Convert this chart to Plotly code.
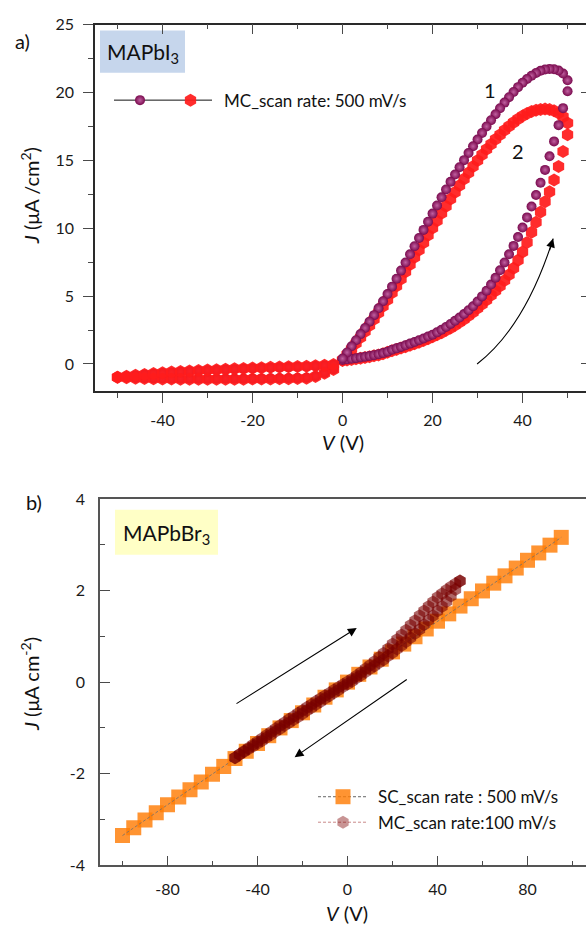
import plotly.graph_objects as go

W, H = 586, 938
FONT = "Lato"

# ---------------- Panel a) MAPbI3 ----------------
V_POS = list(range(0, 51))
S1_FWD = [0.30, 0.34, 0.38, 0.43, 0.48, 0.53, 0.59, 0.65, 0.72, 0.80,
          0.90, 1.05, 1.15, 1.26, 1.38, 1.50, 1.62, 1.75, 1.88, 2.02,
          2.16, 2.33, 2.52, 2.73, 2.95, 3.18, 3.42, 3.68, 3.96, 4.26,
          4.60, 4.98, 5.40, 5.85, 6.35, 6.90, 7.48, 8.08, 8.70, 9.35,
          10.05, 10.80, 11.60, 12.45, 13.35, 14.30, 15.30, 16.40, 17.60, 18.85, 20.10]
S1_REV = [0.40, 0.85, 1.30, 1.75, 2.20, 2.65, 3.12, 3.60, 4.10, 4.62,
          5.15, 5.70, 6.28, 6.88, 7.48, 8.08, 8.68, 9.28, 9.88, 10.48,
          11.08, 11.68, 12.28, 12.86, 13.42, 13.96, 14.50, 15.02, 15.54, 16.04,
          16.54, 17.02, 17.50, 17.96, 18.40, 18.84, 19.26, 19.66, 20.04, 20.40,
          20.72, 21.00, 21.24, 21.44, 21.60, 21.70, 21.74, 21.72, 21.62, 21.40, 20.90]
S2_FWD = [0.25, 0.29, 0.33, 0.38, 0.43, 0.48, 0.54, 0.60, 0.67, 0.76,
          0.86, 0.97, 1.07, 1.17, 1.27, 1.38, 1.49, 1.61, 1.73, 1.86,
          2.00, 2.15, 2.31, 2.48, 2.66, 2.86, 3.07, 3.30, 3.55, 3.82,
          4.10, 4.40, 4.72, 5.07, 5.40, 5.75, 6.15, 6.58, 7.05, 7.65,
          8.25, 8.95, 9.70, 10.45, 11.20, 11.95, 12.70, 13.55, 14.55, 15.65, 16.90]
S2_REV = [0.30, 0.70, 1.10, 1.52, 1.95, 2.39, 2.84, 3.30, 3.77, 4.25,
          4.74, 5.24, 5.75, 6.27, 6.80, 7.33, 7.86, 8.40, 8.94, 9.48,
          10.02, 10.56, 11.10, 11.63, 12.15, 12.66, 13.15, 13.63, 14.10, 14.55,
          15.00, 15.42, 15.82, 16.20, 16.56, 16.90, 17.22, 17.52, 17.80, 18.05,
          18.27, 18.45, 18.60, 18.70, 18.76, 18.78, 18.75, 18.66, 18.50, 18.22, 17.75]

V_NEG = [-50, -48, -46, -44, -42, -40, -38, -36, -34, -32, -30, -28, -26,
         -24, -22, -20, -18, -16, -14, -12, -10, -8, -6, -4, -2]
S1_NEG_UP = [-0.97, -0.90, -0.84, -0.78, -0.72, -0.67, -0.62, -0.58, -0.54, -0.50,
             -0.47, -0.44, -0.41, -0.38, -0.35, -0.32, -0.30, -0.27, -0.25, -0.23,
             -0.21, -0.18, -0.15, -0.11, -0.05]
S1_NEG_LOW = [-0.97, -1.00, -1.03, -1.05, -1.06, -1.07, -1.08, -1.08, -1.09, -1.09,
              -1.09, -1.09, -1.09, -1.09, -1.09, -1.08, -1.08, -1.07, -1.06, -1.05,
              -1.04, -1.02, -0.90, -0.66, -0.38]
S2_NEG_UP = [-0.98, -0.90, -0.83, -0.77, -0.71, -0.65, -0.60, -0.56, -0.52, -0.48,
             -0.45, -0.42, -0.39, -0.36, -0.33, -0.30, -0.28, -0.25, -0.23, -0.21,
             -0.19, -0.16, -0.13, -0.09, -0.03]
S2_NEG_LOW = [-0.98, -1.02, -1.05, -1.07, -1.09, -1.10, -1.11, -1.12, -1.12, -1.12,
              -1.12, -1.12, -1.12, -1.12, -1.12, -1.11, -1.11, -1.10, -1.09, -1.08,
              -1.07, -1.05, -0.92, -0.68, -0.40]

A_XTICKS = [-40, -20, 0, 20, 40]
A_XTEXT = ["-40", "-20", "0", "20", "40"]
A_YTICKS = [0, 5, 10, 15, 20, 25]
A_YTEXT = ["0", "5", "10", "15", "20", "25"]
A_LEGEND = "MC_scan rate: 500 mV/s"

# ---------------- Panel b) MAPbBr3 ----------------
SC_V = [-100, -95, -90, -85, -80, -75, -70, -65, -60, -55, -50, -45, -40, -35, -30,
        -25, -20, -15, -10, -5, 0, 5, 10, 15, 20, 25, 30, 35, 40, 45, 50, 55, 60,
        65, 70, 75, 80, 85, 90, 95]
SC_J = [-3.35, -3.18, -3.01, -2.85, -2.68, -2.51, -2.35, -2.18, -2.01, -1.84,
        -1.67, -1.51, -1.34, -1.17, -1.00, -0.84, -0.67, -0.50, -0.33, -0.17,
        0.00, 0.17, 0.33, 0.50, 0.66, 0.83, 0.99, 1.16, 1.33, 1.49,
        1.66, 1.82, 1.99, 2.16, 2.32, 2.49, 2.66, 2.82, 2.99, 3.16]

MC_V = [-50, -48, -46, -44, -42, -40, -38, -36, -34, -32, -30, -28, -26, -24, -22,
        -20, -18, -16, -14, -12, -10, -8, -6, -4, -2, 0, 2, 4, 6, 8, 10, 12, 14,
        16, 18, 20, 22, 24, 26, 28, 30, 32, 34, 36, 38, 40, 42, 44, 46, 48, 50]
MC_FWD = [-1.65, -1.58, -1.51, -1.44, -1.37, -1.30, -1.23, -1.16, -1.09, -1.02,
          -0.95, -0.88, -0.81, -0.75, -0.68, -0.62, -0.55, -0.49, -0.42, -0.36,
          -0.30, -0.24, -0.17, -0.11, -0.05, 0.01, 0.07, 0.14, 0.21, 0.29,
          0.37, 0.45, 0.54, 0.63, 0.73, 0.83, 0.93, 1.03, 1.13, 1.24,
          1.34, 1.45, 1.55, 1.65, 1.75, 1.85, 1.93, 2.01, 2.08, 2.15, 2.21]
MC_REV = [-1.65, -1.58, -1.52, -1.46, -1.40, -1.34, -1.28, -1.21, -1.15, -1.08,
          -1.02, -0.95, -0.89, -0.82, -0.76, -0.69, -0.62, -0.56, -0.49, -0.43,
          -0.36, -0.30, -0.23, -0.17, -0.10, -0.04, 0.02, 0.09, 0.15, 0.22,
          0.29, 0.35, 0.42, 0.49, 0.57, 0.64, 0.72, 0.80, 0.88, 0.97,
          1.06, 1.15, 1.25, 1.35, 1.45, 1.55, 1.65, 1.76, 1.88, 2.02, 2.21]

B_XTICKS = [-80, -40, 0, 40, 80]
B_XTEXT = ["-80", "-40", "0", "40", "80"]
B_YTICKS = [-4, -2, 0, 2, 4]
B_YTEXT = ["-4", "-2", "0", "2", "4"]
B_LEGEND = ["SC_scan rate : 500 mV/s", "MC_scan rate:100 mV/s"]

# ---------------- styles ----------------
PURPLE = "#7a0a4e"
PURPLE_HI = "#c060a0"
RED = "rgba(255,28,28,0.93)"
ORANGE = "rgba(255,125,5,0.82)"
MAROON = "rgba(120,0,0,0.6)"


def px(x):
    return x / W


def py(y):
    return 1 - y / H


sphere = dict(symbol="circle", size=10, color=PURPLE, line=dict(width=0),
              gradient=dict(type="radial", color=PURPLE_HI))
hexa = dict(symbol="hexagon", size=13, color=RED, line=dict(width=0))

fig = go.Figure()

# panel a traces: red (positive) under purple, red (negative) on top
fig.add_trace(go.Scatter(x=V_POS + V_POS[::-1], y=S2_FWD + S2_REV[::-1], mode="markers",
                         marker=hexa, xaxis="x", yaxis="y", hoverinfo="skip"))
fig.add_trace(go.Scatter(x=V_NEG[::-1] + V_POS + V_POS[::-1] + V_NEG,
                         y=S1_NEG_LOW[::-1] + S1_FWD + S1_REV[::-1] + S1_NEG_UP,
                         mode="markers", marker=sphere, xaxis="x", yaxis="y", hoverinfo="skip"))
fig.add_trace(go.Scatter(x=V_NEG[::-1] + V_NEG, y=S2_NEG_LOW[::-1] + S2_NEG_UP, mode="markers",
                         marker=hexa, xaxis="x", yaxis="y", hoverinfo="skip"))
# overlay axes for inner mirror ticks
fig.add_trace(go.Scatter(x=[], y=[], xaxis="x3", yaxis="y3", hoverinfo="skip"))

# panel b traces
fig.add_trace(go.Scatter(x=SC_V, y=SC_J, mode="markers",
                         marker=dict(symbol="square", size=15, color=ORANGE, line=dict(width=0)),
                         xaxis="x2", yaxis="y2", hoverinfo="skip"))
fig.add_trace(go.Scatter(x=SC_V, y=SC_J, mode="lines",
                         line=dict(color="rgba(110,110,110,0.8)", width=1, dash="3px,2px"),
                         xaxis="x2", yaxis="y2", hoverinfo="skip"))
fig.add_trace(go.Scatter(x=MC_V + MC_V[::-1], y=MC_FWD + MC_REV[::-1], mode="markers",
                         marker=dict(symbol="hexagon", size=13, color=MAROON, line=dict(width=0)),
                         xaxis="x2", yaxis="y2", hoverinfo="skip"))

# legend glyphs on a full-figure pixel axis
LX = "x4"
LY = "y4"
fig.add_trace(go.Scatter(x=[114, 212], y=[92, 92], mode="lines", line=dict(color="#111", width=1),
                         xaxis=LX, yaxis=LY, hoverinfo="skip"))
fig.add_trace(go.Scatter(x=[140], y=[92], mode="markers", marker=sphere, xaxis=LX, yaxis=LY,
                         hoverinfo="skip"))
fig.add_trace(go.Scatter(x=[190.5], y=[92], mode="markers", marker=hexa, xaxis=LX, yaxis=LY,
                         hoverinfo="skip"))
fig.add_trace(go.Scatter(x=[318, 368], y=[803, 803], mode="lines",
                         line=dict(color="#666", width=1, dash="3px,2px"), xaxis=LX, yaxis=LY,
                         hoverinfo="skip"))
fig.add_trace(go.Scatter(x=[343], y=[803], mode="markers",
                         marker=dict(symbol="square", size=15, color=ORANGE, line=dict(width=0)),
                         xaxis=LX, yaxis=LY, hoverinfo="skip"))
fig.add_trace(go.Scatter(x=[318, 368], y=[829, 829], mode="lines",
                         line=dict(color="#c98a8a", width=1, dash="3px,2px"), xaxis=LX, yaxis=LY,
                         hoverinfo="skip"))
fig.add_trace(go.Scatter(x=[343], y=[829], mode="markers",
                         marker=dict(symbol="hexagon", size=13, color="rgba(125,0,0,0.42)",
                                     line=dict(width=0)),
                         xaxis=LX, yaxis=LY, hoverinfo="skip"))

tickfont = dict(family=FONT, size=16, color="#1a1a1a")
AX_LINE = "#2a2a2a"
TICK_C = "#4a4a4a"

a_dom_x = [px(95), 1.0]
a_dom_y = [py(389), py(15)]
b_dom_x = [px(100), 1.0]
b_dom_y = [py(873), py(499)]
A_XR = [-55, 54.1]
A_YR = [-2, 25]

fig.update_layout(
    width=W, height=H, margin=dict(l=0, r=0, t=0, b=0, pad=0),
    paper_bgcolor="white", plot_bgcolor="rgba(0,0,0,0)", showlegend=False,
    xaxis=dict(domain=a_dom_x, anchor="y", range=A_XR, tickmode="array", tickvals=A_XTICKS,
               ticktext=A_XTEXT, ticks="outside", ticklen=10, tickwidth=1.2, tickcolor=TICK_C,
               minor=dict(dtick=10, tick0=0, ticks="outside", ticklen=5, tickwidth=1.2,
                          tickcolor=TICK_C, showgrid=False),
               showline=True, linecolor=AX_LINE, linewidth=1.5, showgrid=False, zeroline=False,
               tickfont=tickfont, ticklabelstandoff=4),
    yaxis=dict(domain=a_dom_y, anchor="x", range=A_YR, tickmode="array", tickvals=A_YTICKS,
               ticktext=A_YTEXT, ticks="outside", ticklen=10, tickwidth=1.2, tickcolor=TICK_C,
               minor=dict(dtick=2.5, tick0=0, ticks="outside", ticklen=5, tickwidth=1.2,
                          tickcolor=TICK_C, showgrid=False),
               showline=True, linecolor=AX_LINE, linewidth=1.5, showgrid=False, zeroline=False,
               tickfont=tickfont, ticklabelstandoff=6),
    xaxis3=dict(overlaying="x", anchor="y", side="top", range=A_XR, tickmode="array",
                tickvals=A_XTICKS, ticks="inside", ticklen=10, tickwidth=1.2, tickcolor=TICK_C,
                minor=dict(dtick=10, tick0=0, ticks="inside", ticklen=5, tickwidth=1.2,
                           tickcolor=TICK_C, showgrid=False),
                showticklabels=False, showline=True, linecolor=AX_LINE, linewidth=1.5,
                showgrid=False, zeroline=False),
    yaxis3=dict(overlaying="y", anchor="x", side="right", range=A_YR, tickmode="array",
                tickvals=A_YTICKS, ticks="inside", ticklen=5, tickwidth=1.2, tickcolor=TICK_C,
                showticklabels=False, showline=False, showgrid=False, zeroline=False),
    xaxis2=dict(domain=b_dom_x, anchor="y2", range=[-110, 106], tickmode="array",
                tickvals=B_XTICKS, ticktext=B_XTEXT, ticks="inside", ticklen=10, tickwidth=1.2,
                tickcolor=TICK_C,
                minor=dict(dtick=20, tick0=0, ticks="inside", ticklen=5, tickwidth=1.2,
                           tickcolor=TICK_C, showgrid=False),
                showline=True, mirror=True, linecolor="#555", linewidth=1.5, showgrid=False,
                zeroline=False, tickfont=tickfont, ticklabelstandoff=9),
    yaxis2=dict(domain=b_dom_y, anchor="x2", range=[-4, 4], tickmode="array",
                tickvals=B_YTICKS, ticktext=B_YTEXT, ticks="inside", ticklen=10, tickwidth=1.2,
                tickcolor=TICK_C,
                minor=dict(dtick=1, tick0=0, ticks="inside", ticklen=5, tickwidth=1.2,
                           tickcolor=TICK_C, showgrid=False),
                showline=True, linecolor="#555", linewidth=1.5, showgrid=False, zeroline=False,
                tickfont=tickfont, ticklabelstandoff=10),
    xaxis4=dict(domain=[0, 1], anchor="y4", range=[0, W], visible=False, fixedrange=True),
    yaxis4=dict(domain=[0, 1], anchor="x4", range=[H, 0], visible=False, fixedrange=True),
)

# label boxes
fig.add_shape(type="rect", xref="paper", yref="paper", x0=px(100), x1=px(185), y0=py(64), y1=py(21),
              fillcolor="#c6d6ec", line=dict(width=0), layer="below")
fig.add_shape(type="rect", xref="paper", yref="paper", x0=px(115), x1=px(218), y0=py(556), y1=py(510),
              fillcolor="#ffffc6", line=dict(width=0), layer="below")

# curved arrow in panel a
fig.add_shape(type="path", xref="x", yref="y", path="M 29.9,0.0 Q 40.6,2.75 46.8,9.24",
              line=dict(color="black", width=1.1))

anns = []


def txt(x, y, s, size=20, xanchor="center", angle=0):
    anns.append(dict(xref="paper", yref="paper", x=px(x), y=py(y), text=s, showarrow=False,
                     xanchor=xanchor, yanchor="middle", textangle=angle,
                     font=dict(family=FONT, size=size, color="#111")))


txt(22, 32, "a)")
txt(34, 502, "b)")
txt(142.5, 44, "MAPbI<sub>3</sub>", size=21)
txt(166.5, 535, "MAPbBr<sub>3</sub>", size=21)
txt(222, 92, A_LEGEND, size=17, xanchor="left")
txt(376, 803, B_LEGEND[0], size=17, xanchor="left")
txt(376, 829, B_LEGEND[1], size=17, xanchor="left")
txt(343, 441, "<i>V</i> (V)", size=20)
txt(347, 922, "<i>V</i> (V)", size=20)
txt(30, 190, "<i>J</i> (μA /cm<sup>2</sup>)", size=20, angle=-90)
txt(30, 688, "<i>J</i> (μA cm<sup>-2</sup>)", size=20, angle=-90)

# curve labels
anns.append(dict(xref="x", yref="y", x=32.7, y=20.2, text="1", showarrow=False,
                 font=dict(family=FONT, size=20, color="#111")))
anns.append(dict(xref="x", yref="y", x=39.1, y=15.7, text="2", showarrow=False,
                 font=dict(family=FONT, size=20, color="#111")))
# arrowhead of curved arrow
anns.append(dict(xref="x", yref="y", axref="x", ayref="y", x=46.8, y=9.24, ax=45.9, ay=8.27,
                 text="", showarrow=True, arrowhead=2, arrowsize=1.6, arrowwidth=1.1,
                 arrowcolor="black"))
# straight arrows in panel b
anns.append(dict(xref="x2", yref="y2", axref="x2", ayref="y2", x=4.1, y=1.18, ax=-50, ay=-0.49,
                 text="", showarrow=True, arrowhead=2, arrowsize=1.6, arrowwidth=1.1,
                 arrowcolor="black"))
anns.append(dict(xref="x2", yref="y2", axref="x2", ayref="y2", x=-23.5, y=-1.64, ax=27, ay=0.08,
                 text="", showarrow=True, arrowhead=2, arrowsize=1.6, arrowwidth=1.1,
                 arrowcolor="black"))

fig.update_layout(annotations=anns)
fig.write_html("out.html")
